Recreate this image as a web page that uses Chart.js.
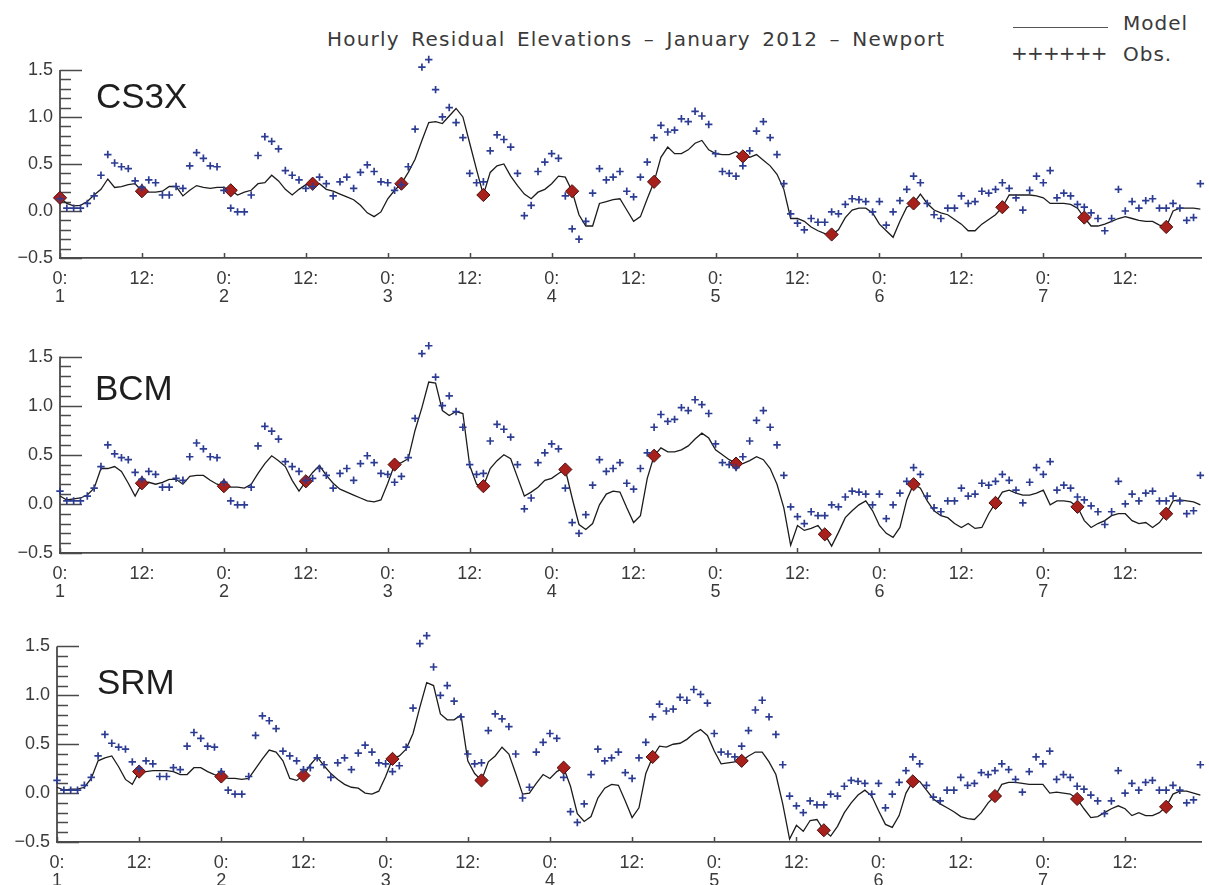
<!DOCTYPE html>
<html>
<head>
<meta charset="utf-8">
<script src="https://cdn.jsdelivr.net/npm/chart.js@4/dist/chart.umd.min.js"></script>
<style>
  html, body { margin: 0; padding: 0; background: #fff; overflow: hidden; }
  body { width: 1209px; height: 885px; position: relative; font-family: "Liberation Sans", Arial, sans-serif; color: #333; }
  canvas { position: absolute; }
  .title { position: absolute; left: 327px; top: 27px; font-family: "DejaVu Sans", sans-serif; font-size: 20px; letter-spacing: 1.2px; word-spacing: 4px; white-space: nowrap; color: #3a3a3a; }
  .leg { position: absolute; font-family: "DejaVu Sans", sans-serif; font-size: 20px; letter-spacing: 1px; white-space: nowrap; color: #3a3a3a; }
  .legline { position: absolute; left: 1013px; top: 27px; width: 95px; height: 0; border-top: 1.6px solid #555; }
  .panel-label { position: absolute; font-size: 35px; color: #1e1e1e; white-space: nowrap; }
</style>
</head>
<body>
<div class="title">Hourly Residual Elevations – January 2012 – Newport</div>
<div class="legline"></div>
<div class="leg" style="left:1123px; top:11px;">Model</div>
<div class="leg" style="left:1011px; top:41px; letter-spacing:-0.8px;">++++++</div>
<div class="leg" style="left:1123px; top:42px;">Obs.</div>

<canvas id="c1" width="1209" height="270" style="left:0px; top:38px;"></canvas>
<canvas id="c2" width="1209" height="279" style="left:0px; top:324px;"></canvas>
<canvas id="c3" width="1212" height="278" style="left:-3px; top:614px;"></canvas>

<div class="panel-label" style="left:96px; top:76px;">CS3X</div>
<div class="panel-label" style="left:95px; top:368px;">BCM</div>
<div class="panel-label" style="left:97px; top:662px;">SRM</div>

<script>
// Observed hourly residual elevation (m), hour 0 = 0:00 on 1 January 2012
const obs = [
  0.13, 0.03, 0.03, 0.03, 0.08, 0.16, 0.38, 0.60, 0.51, 0.47,
  0.45, 0.32, 0.25, 0.33, 0.30, 0.17, 0.17, 0.26, 0.24, 0.48,
  0.62, 0.56, 0.48, 0.47, 0.22, 0.03, -0.01, -0.01, 0.17, 0.59,
  0.79, 0.74, 0.66, 0.43, 0.38, 0.33, 0.24, 0.26, 0.36, 0.29,
  0.16, 0.31, 0.36, 0.24, 0.41, 0.49, 0.42, 0.31, 0.30, 0.22,
  0.28, 0.47, 0.87, 1.53, 1.61, 1.29, 1.00, 1.10, 0.94, 0.78,
  0.40, 0.30, 0.31, 0.64, 0.81, 0.76, 0.68, 0.40, -0.05, 0.06,
  0.42, 0.52, 0.61, 0.56, 0.16, -0.19, -0.30, -0.11, 0.19, 0.45,
  0.33, 0.36, 0.42, 0.21, 0.15, 0.36, 0.52, 0.78, 0.91, 0.84,
  0.86, 0.98, 0.95, 1.06, 1.01, 0.92, 0.61, 0.42, 0.40, 0.37,
  0.48, 0.64, 0.85, 0.95, 0.78, 0.60, 0.29, -0.03, -0.13, -0.20,
  -0.08, -0.12, -0.12, -0.01, -0.03, 0.07, 0.13, 0.12, 0.10, -0.01,
  0.10, -0.15, -0.01, 0.11, 0.23, 0.37, 0.30, 0.08, -0.04, -0.08,
  0.03, 0.03, 0.16, 0.08, 0.10, 0.21, 0.19, 0.23, 0.30, 0.24,
  0.14, 0.01, 0.22, 0.37, 0.30, 0.43, 0.14, 0.19, 0.16, 0.07,
  0.04, -0.02, -0.08, -0.21, -0.08, 0.23, 0.00, 0.10, 0.03, 0.11,
  0.13, 0.03, 0.03, 0.08, 0.03, -0.10, -0.07, 0.29
];

// Modelled hourly residual elevation (m) for each model run
const modelCS3X = [
  0.14, 0.08, 0.055, 0.06, 0.10, 0.17, 0.23, 0.34, 0.25, 0.26,
  0.28, 0.29, 0.21, 0.20, 0.20, 0.21, 0.26, 0.26, 0.16, 0.22,
  0.27, 0.25, 0.24, 0.25, 0.25, 0.22, 0.17, 0.20, 0.22, 0.29,
  0.30, 0.38, 0.32, 0.23, 0.17, 0.23, 0.28, 0.29, 0.29, 0.23,
  0.21, 0.18, 0.15, 0.12, 0.06, -0.02, -0.06, -0.01, 0.13, 0.22,
  0.29, 0.41, 0.55, 0.75, 0.94, 0.95, 0.93, 1.01, 1.09, 1.00,
  0.72, 0.44, 0.17, 0.41, 0.48, 0.50, 0.37, 0.27, 0.18, 0.13,
  0.20, 0.23, 0.29, 0.37, 0.36, 0.21, -0.04, -0.16, -0.16, 0.08,
  0.10, 0.12, 0.13, 0.01, -0.11, -0.06, 0.13, 0.31, 0.57, 0.68,
  0.61, 0.61, 0.65, 0.72, 0.75, 0.65, 0.61, 0.60, 0.60, 0.63,
  0.58, 0.57, 0.60, 0.54, 0.48, 0.39, 0.23, -0.08, -0.08, -0.11,
  -0.17, -0.21, -0.24, -0.25, -0.20, -0.07, 0.01, 0.03, 0.03, -0.02,
  -0.14, -0.21, -0.28, -0.11, 0.04, 0.08, 0.18, 0.08, 0.01, -0.02,
  -0.04, -0.09, -0.14, -0.21, -0.21, -0.14, -0.09, -0.04, 0.04, 0.17,
  0.17, 0.17, 0.17, 0.16, 0.14, 0.08, 0.08, 0.08, 0.07, 0.03,
  -0.07, -0.16, -0.16, -0.14, -0.11, -0.08, -0.06, -0.08, -0.10, -0.11,
  -0.11, -0.15, -0.17, 0.00, 0.03, 0.03, 0.03, 0.02
];

const modelBCM = [
  0.08, 0.04, 0.05, 0.06, 0.09, 0.16, 0.36, 0.36, 0.38, 0.33,
  0.21, 0.08, 0.21, 0.22, 0.20, 0.22, 0.25, 0.25, 0.20, 0.28,
  0.29, 0.29, 0.24, 0.20, 0.18, 0.17, 0.17, 0.16, 0.20, 0.31,
  0.41, 0.49, 0.44, 0.38, 0.24, 0.13, 0.23, 0.32, 0.39, 0.29,
  0.21, 0.15, 0.12, 0.09, 0.06, 0.03, 0.02, 0.04, 0.21, 0.40,
  0.42, 0.46, 0.75, 0.98, 1.24, 1.23, 0.95, 0.90, 0.94, 0.92,
  0.39, 0.20, 0.18, 0.36, 0.44, 0.50, 0.46, 0.27, 0.08, 0.12,
  0.17, 0.24, 0.26, 0.31, 0.35, 0.06, -0.21, -0.26, -0.20, -0.01,
  0.10, 0.13, 0.12, -0.04, -0.19, -0.12, 0.26, 0.49, 0.57, 0.53,
  0.53, 0.55, 0.59, 0.66, 0.72, 0.67, 0.55, 0.50, 0.45, 0.41,
  0.41, 0.44, 0.48, 0.45, 0.36, 0.20, -0.04, -0.42, -0.22, -0.27,
  -0.25, -0.22, -0.31, -0.43, -0.29, -0.14, -0.07, -0.01, 0.03, -0.07,
  -0.22, -0.30, -0.34, -0.24, 0.04, 0.20, 0.16, 0.03, -0.07, -0.12,
  -0.14, -0.20, -0.24, -0.20, -0.25, -0.24, -0.10, 0.01, 0.12, 0.14,
  0.11, 0.09, 0.09, 0.11, 0.14, -0.01, 0.03, 0.03, 0.02, -0.03,
  -0.17, -0.24, -0.20, -0.17, -0.12, -0.10, -0.10, -0.17, -0.20, -0.19,
  -0.24, -0.19, -0.10, 0.03, 0.04, 0.03, 0.02, -0.01
];

const modelSRM = [
  0.06, 0.03, 0.04, 0.04, 0.06, 0.15, 0.33, 0.36, 0.38, 0.27,
  0.14, 0.09, 0.22, 0.22, 0.23, 0.23, 0.23, 0.22, 0.19, 0.19,
  0.26, 0.26, 0.22, 0.19, 0.17, 0.15, 0.15, 0.14, 0.15, 0.25,
  0.35, 0.44, 0.42, 0.33, 0.15, 0.13, 0.18, 0.29, 0.37, 0.28,
  0.20, 0.14, 0.09, 0.06, 0.05, 0.00, -0.01, 0.02, 0.17, 0.35,
  0.38, 0.45, 0.61, 0.88, 1.13, 1.10, 0.81, 0.75, 0.75, 0.80,
  0.33, 0.20, 0.13, 0.32, 0.38, 0.47, 0.40, 0.20, -0.01, 0.00,
  0.10, 0.19, 0.15, 0.22, 0.26, 0.07, -0.21, -0.29, -0.24, -0.05,
  0.05, 0.09, 0.08, -0.08, -0.25, -0.15, 0.20, 0.37, 0.48, 0.47,
  0.50, 0.51, 0.55, 0.61, 0.65, 0.59, 0.43, 0.30, 0.31, 0.32,
  0.33, 0.38, 0.42, 0.42, 0.32, 0.19, -0.11, -0.47, -0.33, -0.39,
  -0.28, -0.27, -0.38, -0.44, -0.34, -0.20, -0.10, -0.02, 0.03, -0.03,
  -0.18, -0.32, -0.35, -0.23, 0.00, 0.12, 0.12, 0.03, -0.06, -0.11,
  -0.15, -0.19, -0.24, -0.26, -0.27, -0.20, -0.10, -0.03, 0.09, 0.11,
  0.11, 0.10, 0.09, 0.09, 0.09, 0.00, 0.01, 0.00, -0.01, -0.06,
  -0.16, -0.25, -0.24, -0.20, -0.16, -0.13, -0.16, -0.23, -0.20, -0.23,
  -0.23, -0.20, -0.14, -0.01, 0.02, 0.02, 0.00, -0.02
];

// Hours at which each model run is marked (one per tidal cycle)
const marksCS3X = [0, 12, 25, 37, 50, 62, 75, 87, 100, 113, 125, 138, 150, 162];
const marksBCM  = [12, 24, 36, 49, 62, 74, 87, 99, 112, 125, 137, 149, 162];
const marksSRM  = [12, 24, 36, 49, 62, 74, 87, 100, 112, 125, 137, 149, 162];

// Axis settings: the drawn axis runs from -0.5 to 1.5 m; the plot area
// reaches a little higher so observations above 1.5 m stay visible.
const hourMin = 0, hourMax = 167.15, hourStep = 12;
const elevMin = -0.5, elevAxisTop = 1.5, elevAreaTop = 1.65, elevStep = 0.1;

const AXIS = '#4a4a4a';
const TEXT = '#3a3a3a';

function isMajor(v) { return Math.abs(v * 2 - Math.round(v * 2)) < 1e-6; }

function hourLabel(h) {
  if (h % 24 === 0) return ['0:', String(h / 24 + 1)];
  return '12:';
}

// Left axis line and inward tick marks, IDL style
const inwardTicks = {
  id: 'inwardTicks',
  beforeDatasetsDraw(chart) {
    const { ctx, chartArea } = chart;
    const x = chart.scales.x, y = chart.scales.y;
    ctx.save();
    ctx.strokeStyle = AXIS;
    ctx.lineWidth = 1.8;
    ctx.beginPath();
    ctx.moveTo(chartArea.left, y.getPixelForValue(elevMin) + 1);
    ctx.lineTo(chartArea.left, y.getPixelForValue(elevAxisTop));
    ctx.stroke();
    ctx.lineWidth = 1.5;
    ctx.beginPath();
    y.ticks.forEach(t => {
      const py = Math.round(y.getPixelForValue(t.value)) + 0.5;
      const len = isMajor(t.value) ? 22 : 11;
      ctx.moveTo(chartArea.left, py);
      ctx.lineTo(chartArea.left + len, py);
    });
    x.ticks.forEach(t => {
      const px = Math.round(x.getPixelForValue(t.value)) + 0.5;
      ctx.moveTo(px, chartArea.bottom);
      ctx.lineTo(px, chartArea.bottom - 5);
    });
    ctx.stroke();
    ctx.restore();
  }
};

function makePanel(id, model, marks) {
  const toPoints = arr => arr.map((v, i) => ({ x: i, y: v }));
  const markPoints = marks.map(h => ({ x: h, y: model[h] }));
  return new Chart(document.getElementById(id), {
    type: 'scatter',
    data: {
      datasets: [
        {
          label: 'Obs.',
          data: toPoints(obs),
          pointStyle: 'cross',
          pointRadius: 3.7,
          pointBorderWidth: 1.7,
          borderColor: '#2c3c92',
          backgroundColor: '#2c3c92',
          showLine: false,
          clip: false,
          order: 0
        },
        {
          label: 'Tidal cycle',
          data: markPoints,
          pointStyle: 'rectRot',
          pointRadius: 6.6,
          pointBorderWidth: 1,
          borderColor: '#4a0d0d',
          backgroundColor: '#a8201c',
          showLine: false,
          clip: false,
          order: 1
        },
        {
          label: 'Model',
          data: toPoints(model),
          showLine: true,
          borderColor: '#1c1c1c',
          borderWidth: 1.3,
          pointRadius: 0,
          tension: 0,
          clip: false,
          order: 2
        }
      ]
    },
    options: {
      responsive: false,
      animation: false,
      events: [],
      layout: { padding: { top: 12, right: 0, bottom: 0, left: 0 } },
      plugins: { legend: { display: false }, tooltip: { enabled: false }, title: { display: false } },
      scales: {
        x: {
          type: 'linear',
          min: hourMin,
          max: hourMax,
          afterFit(scale) { scale.height = 50; },
          afterBuildTicks(scale) { scale.ticks = scale.ticks.filter(t => t.value % hourStep === 0); },
          ticks: {
            stepSize: hourStep,
            includeBounds: false,
            autoSkip: false,
            maxRotation: 0,
            padding: 12,
            color: TEXT,
            font: { family: '"Liberation Sans", Arial, sans-serif', size: 18, lineHeight: 1.0 },
            callback: v => hourLabel(v)
          },
          grid: { display: false, drawTicks: false },
          border: { display: true, color: AXIS, width: 1.8 }
        },
        y: {
          type: 'linear',
          min: elevMin,
          max: elevAreaTop,
          afterFit(scale) { scale.width = 60; },
          afterBuildTicks(scale) { scale.ticks = scale.ticks.filter(t => t.value <= elevAxisTop + 1e-9); },
          ticks: {
            stepSize: elevStep,
            includeBounds: false,
            autoSkip: false,
            padding: 7,
            color: TEXT,
            font: { family: '"Liberation Sans", Arial, sans-serif', size: 18 },
            callback: v => isMajor(v) ? (v < 0 ? '\u2212' + Math.abs(v).toFixed(1) : v.toFixed(1)) : ''
          },
          grid: { display: false, drawTicks: false },
          border: { display: false }
        }
      }
    },
    plugins: [inwardTicks]
  });
}

makePanel('c1', modelCS3X, marksCS3X);
makePanel('c2', modelBCM, marksBCM);
makePanel('c3', modelSRM, marksSRM);
</script>
</body>
</html>
